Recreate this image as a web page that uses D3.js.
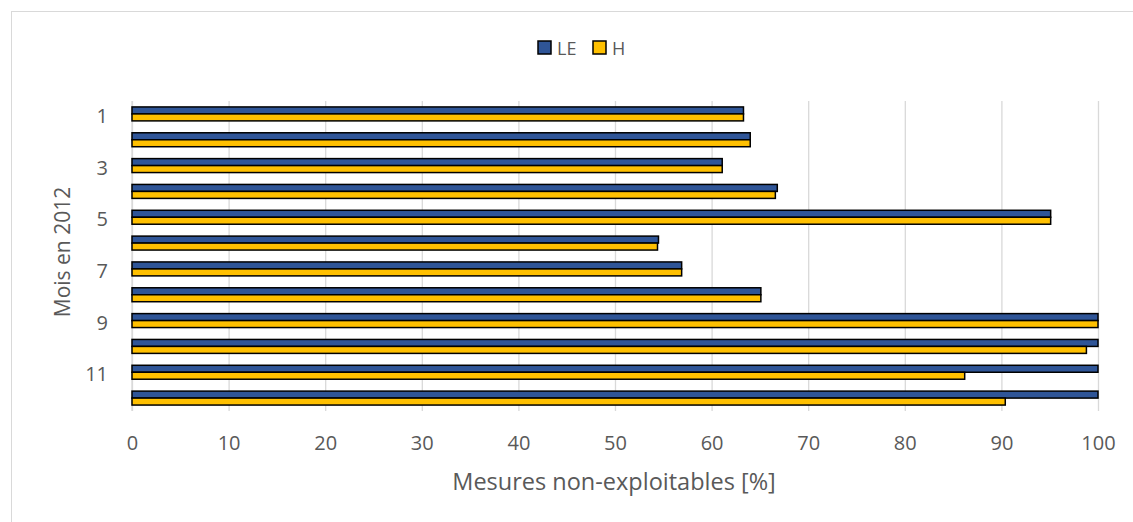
<!DOCTYPE html>
<html>
<head>
<meta charset="utf-8">
<script src="https://cdn.jsdelivr.net/npm/d3@7"></script>
<style>
  body { margin: 0; background: #fff; }
  text { font-family: "Open Sans", "Noto Sans", sans-serif; fill: #595959; }
</style>
</head>
<body>
<div id="chart"></div>
<script>
var svgWidth = 1133;
var svgHeight = 522;
var margin = { top: 101, right: 35, bottom: 111, left: 132 };
var width = svgWidth - margin.left - margin.right;
var height = svgHeight - margin.top - margin.bottom;

// data
var months = ["1","2","3","4","5","6","7","8","9","10","11","12"];
var seriesNames = ["LE", "H"];
var leValues = [63.3, 64.0, 61.1, 66.8, 95.1, 54.5, 56.9, 65.1, 100, 100, 100, 100];
var hValues  = [63.3, 64.0, 61.1, 66.6, 95.1, 54.4, 56.9, 65.1, 100, 98.8, 86.2, 90.4];
var xTicks = [0, 10, 20, 30, 40, 50, 60, 70, 80, 90, 100];
var colors = ["#2f5597", "#ffc000"];

var rows = months.map(function(m, i) {
  return { month: m, values: [leValues[i], hValues[i]] };
});

var svg = d3.select("#chart")
  .append("svg")
  .attr("width", svgWidth)
  .attr("height", svgHeight);

// outer frame (only top/left visible in the picture)
svg.append("rect")
  .attr("x", 11.5).attr("y", 11.5)
  .attr("width", svgWidth).attr("height", svgHeight)
  .attr("fill", "none")
  .attr("stroke", "#d9d9d9");

var chartGroup = svg.append("g")
  .attr("transform", `translate(${margin.left},${margin.top})`);

var xScale = d3.scaleLinear().domain([0, 100]).range([0, width]);
var yScale = d3.scaleBand().domain(months).range([0, height]).paddingInner(0.46).paddingOuter(0.23);
var ySub = d3.scaleBand().domain([0, 1]).range([0, yScale.bandwidth()]);

// grid
var grid = chartGroup.append("g")
  .call(d3.axisBottom(xScale).tickValues(xTicks).tickSize(height).tickFormat(""));
grid.select(".domain").remove();
grid.selectAll("line").attr("stroke", "#d9d9d9").attr("stroke-width", 1.3);

// x tick labels
var xAxis = chartGroup.append("g")
  .attr("transform", `translate(0,${height})`)
  .call(d3.axisBottom(xScale).tickValues(xTicks).tickSize(0).tickPadding(25));
xAxis.select(".domain").remove();
xAxis.selectAll("text").style("font-size", "20px").style("fill", "#595959");

// y labels (odd months only)
var yAxis = chartGroup.append("g")
  .call(d3.axisLeft(yScale).tickSize(0).tickPadding(24)
    .tickFormat(function(d, i) { return i % 2 === 0 ? d : ""; }));
yAxis.select(".domain").remove();
yAxis.selectAll("text").style("font-size", "20px").style("fill", "#595959")
  .attr("dy", "0.45em");

// vertical axis line at 0
chartGroup.append("line")
  .attr("x1", xScale(0)).attr("x2", xScale(0))
  .attr("y1", 0).attr("y2", height)
  .attr("stroke", "#d9d9d9").attr("stroke-width", 1.3);

// bars
var groups = chartGroup.selectAll(".month")
  .data(rows)
  .enter()
  .append("g")
  .attr("transform", d => `translate(0,${yScale(d.month)})`);

groups.selectAll("rect")
  .data(d => d.values.map((v, i) => ({ v: v, i: i })))
  .enter()
  .append("rect")
  .attr("x", xScale(0))
  .attr("y", d => ySub(d.i))
  .attr("width", d => xScale(d.v) - xScale(0))
  .attr("height", ySub.bandwidth())
  .attr("fill", d => colors[d.i])
  .attr("stroke", "#000")
  .attr("stroke-width", 1.5);

// axis titles
svg.append("text")
  .attr("x", 614)
  .attr("y", 490)
  .attr("text-anchor", "middle")
  .style("font-size", "23.5px")
  .text("Mesures non-exploitables [%]");

svg.append("text")
  .attr("transform", "translate(70,252) rotate(-90)")
  .attr("text-anchor", "middle")
  .style("font-size", "21px")
  .text("Mois en 2012");

// legend
var legend = svg.append("g").attr("transform", "translate(538,41)");
var items = legend.selectAll("g")
  .data(seriesNames)
  .enter()
  .append("g")
  .attr("transform", (d, i) => `translate(${i * 55},0)`);
items.append("rect")
  .attr("width", 13).attr("height", 13)
  .attr("fill", (d, i) => colors[i])
  .attr("stroke", "#000").attr("stroke-width", 1.5);
items.append("text")
  .attr("x", 19).attr("y", 13.5)
  .style("font-size", "18px")
  .text(d => d);
</script>
</body>
</html>
